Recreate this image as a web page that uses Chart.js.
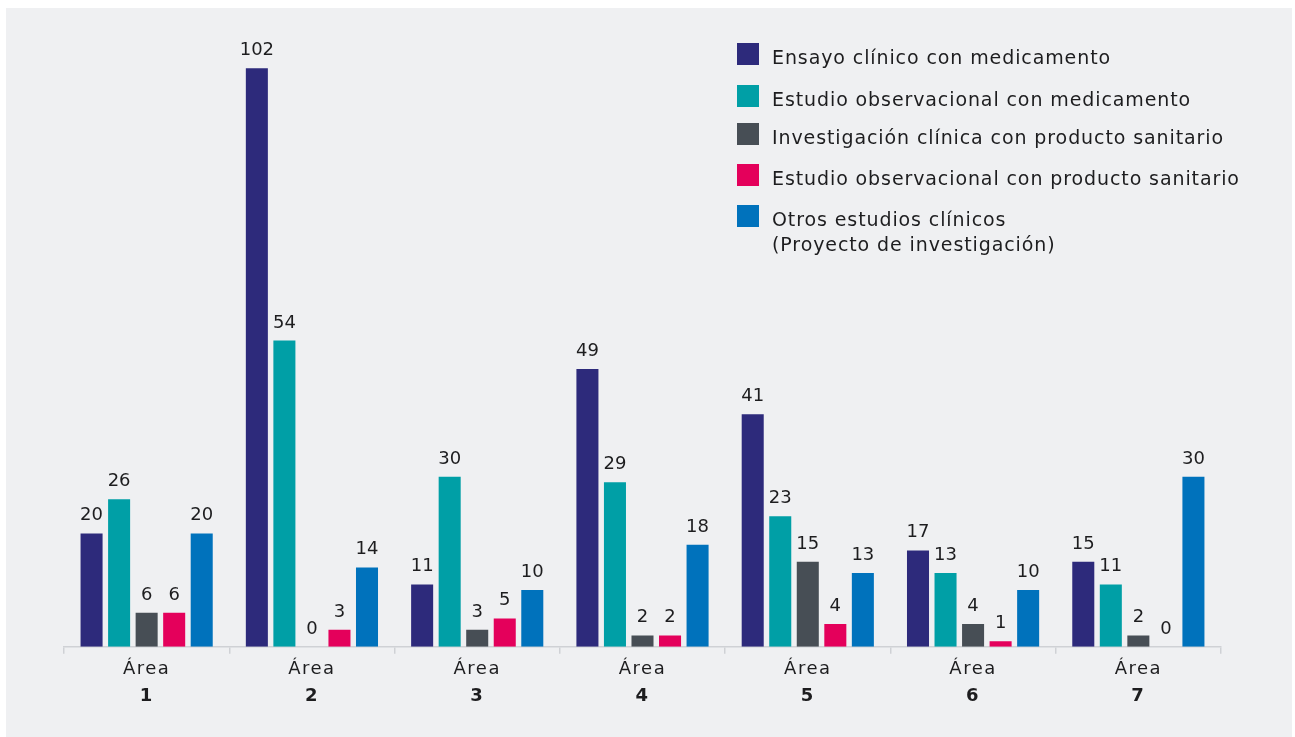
<!DOCTYPE html>
<html lang="es">
<head>
<meta charset="utf-8">
<script src="https://cdn.jsdelivr.net/npm/chart.js@4.4.1/dist/chart.umd.min.js"></script>
<style>
  html, body { margin: 0; padding: 0; background: #ffffff; width: 1295px; height: 737px; overflow: hidden; }
  #panel { position: absolute; left: 6px; top: 8px; width: 1286px; height: 729px; background: #eff0f2; }
  #chart { position: absolute; left: 0; top: 0; }
  #legend { position: absolute; left: 737px; top: 0; font-family: "DejaVu Sans", sans-serif; font-size: 19px; letter-spacing: 0.9px; color: #1d1d1f; }
  .item { position: absolute; left: 0; display: flex; align-items: flex-start; white-space: nowrap; }
  .box { width: 22px; height: 22px; flex: none; }
  .txt { margin-left: 13px; line-height: 25px; margin-top: 2px; }
</style>
</head>
<body>
<div id="panel"><canvas id="chart" width="1286" height="729"></canvas></div>
<div id="legend"></div>
<script>
// Categories (x axis)
const areaWord = 'Área';
const areas = ['1', '2', '3', '4', '5', '6', '7'];

// Series names
const seriesNames = [
  ['Ensayo clínico con medicamento'],
  ['Estudio observacional con medicamento'],
  ['Investigación clínica con producto sanitario'],
  ['Estudio observacional con producto sanitario'],
  ['Otros estudios clínicos', '(Proyecto de investigación)']
];

// Series values per área
const ensayoMedicamento = [20, 102, 11, 49, 41, 17, 15];
const observacionalMedicamento = [26, 54, 30, 29, 23, 13, 11];
const investigacionProducto = [6, 0, 3, 2, 15, 4, 2];
const observacionalProducto = [6, 3, 5, 2, 4, 1, 0];
const otrosEstudios = [20, 14, 10, 18, 13, 10, 30];

const seriesColors = ['#2d2a7b', '#009fa6', '#474e55', '#e4005b', '#0072bc'];
const seriesValues = [ensayoMedicamento, observacionalMedicamento, investigacionProducto, observacionalProducto, otrosEstudios];

const FONT = '"DejaVu Sans", sans-serif';
const TEXT = '#1d1d1f';
const AXIS = '#cfd1d5';

// Slightly open tracking for the axis labels
const axisTracking = {
  id: 'axisTracking',
  beforeDraw(chart) { chart.ctx.letterSpacing = '1.5px'; }
};

// Value labels above each bar (zeros included)
const valueLabels = {
  id: 'valueLabels',
  afterDatasetsDraw(chart) {
    const ctx = chart.ctx;
    ctx.save();
    ctx.letterSpacing = '0px';
    ctx.font = '18px ' + FONT;
    ctx.fillStyle = TEXT;
    ctx.textAlign = 'center';
    ctx.textBaseline = 'alphabetic';
    chart.data.datasets.forEach((ds, i) => {
      chart.getDatasetMeta(i).data.forEach((bar, j) => {
        ctx.fillText(String(ds.data[j]), bar.x, bar.y - 13);
      });
    });
    ctx.restore();
  }
};

new Chart(document.getElementById('chart'), {
  type: 'bar',
  data: {
    labels: areas,
    datasets: seriesValues.map((vals, i) => ({
      label: seriesNames[i].join(' '),
      data: vals,
      backgroundColor: seriesColors[i],
      borderWidth: 0,
      categoryPercentage: 0.833,
      barPercentage: 0.8
    }))
  },
  options: {
    responsive: false,
    animation: false,
    devicePixelRatio: 1,
    layout: { padding: { left: 58, right: 71, top: 15, bottom: 30 } },
    plugins: { legend: { display: false }, tooltip: { enabled: false } },
    scales: {
      y: { display: false, min: 0, max: 110 },
      x: {
        position: 'bottom',
        grid: { offset: true, drawOnChartArea: false, drawTicks: true, tickLength: 7, color: AXIS, lineWidth: 1.5 },
        border: { color: AXIS, width: 1.5 },
        ticks: { padding: 5, color: TEXT, font: { family: FONT, size: 18 }, callback: () => areaWord }
      },
      x2: {
        type: 'category',
        position: 'bottom',
        labels: areas,
        offset: true,
        grid: { display: false, drawTicks: false },
        border: { display: false },
        ticks: { padding: 0, color: TEXT, font: { family: FONT, size: 18, weight: 'bold' } }
      }
    }
  },
  plugins: [axisTracking, valueLabels]
});

// Legend
const legend = document.getElementById('legend');
const rowTops = [43, 85, 123, 164, 205];
seriesNames.forEach((lines, i) => {
  const item = document.createElement('div');
  item.className = 'item';
  item.style.top = rowTops[i] + 'px';
  const box = document.createElement('div');
  box.className = 'box';
  box.style.background = seriesColors[i];
  const txt = document.createElement('div');
  txt.className = 'txt';
  txt.innerHTML = lines.join('<br>');
  item.appendChild(box);
  item.appendChild(txt);
  legend.appendChild(item);
});
</script>
</body>
</html>
